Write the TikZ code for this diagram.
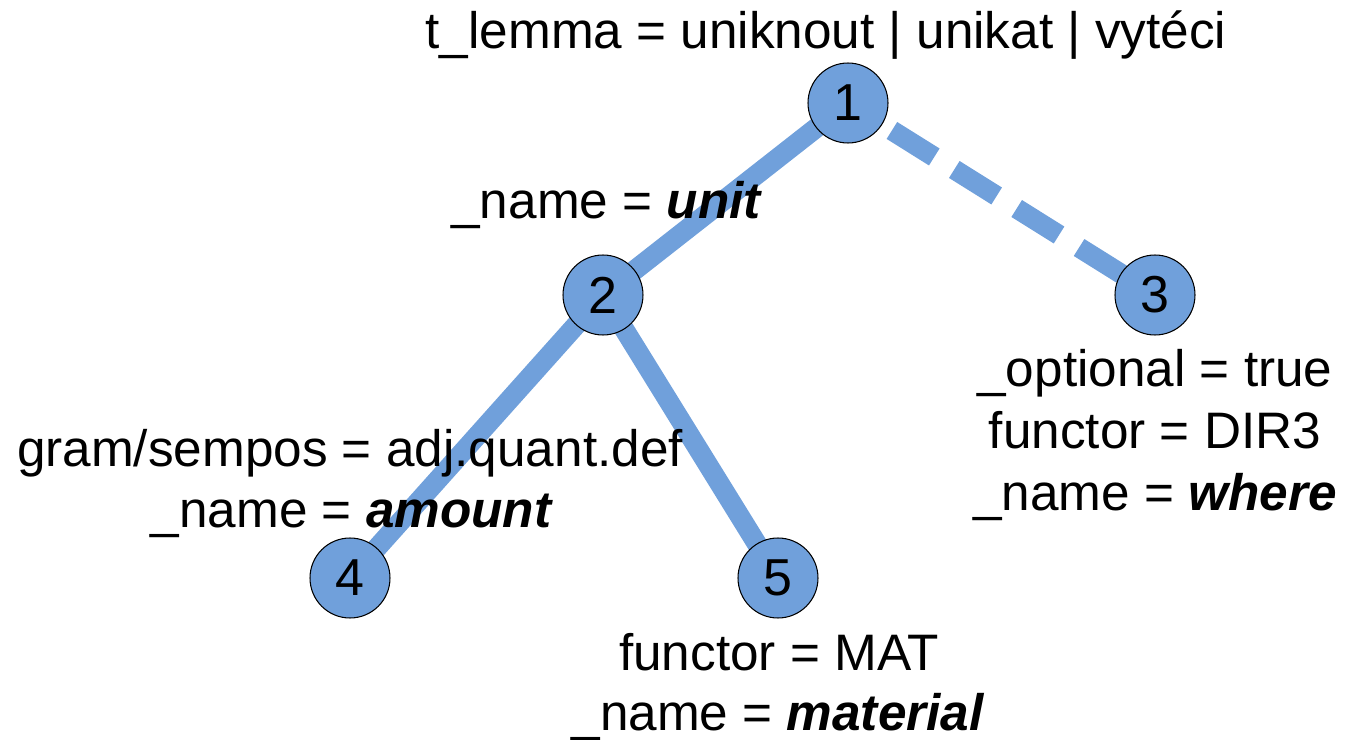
\documentclass[tikz,border=0pt]{standalone}
\usepackage{fontspec}
\setmainfont{Liberation Sans}
\usetikzlibrary{backgrounds}
\definecolor{nodeblue}{RGB}{112,160,219}
\tikzset{
  treenode/.style={circle,draw=black,line width=0.6pt,fill=nodeblue,minimum size=1.6cm,inner sep=0pt,font=\fontsize{29.6}{35}\selectfont},
  lbl/.style={anchor=base,inner sep=0pt,font=\fontsize{29.2}{35}\selectfont},
  edge/.style={draw=nodeblue,line width=0.4cm},
  optedge/.style={edge,dash pattern=on 1cm off 0.472cm,dash phase=0.436cm}
}
\begin{document}
\begin{tikzpicture}[x=0.02cm,y=-0.02cm]
\useasboundingbox (0,0) rectangle (1347,740);
\node[treenode] (n1) at (848,103) {1};
\node[treenode] (n2) at (603,295) {2};
\node[treenode] (n3) at (1155,295) {3};
\node[treenode] (n4) at (350,578) {4};
\node[treenode] (n5) at (778,578) {5};
\begin{scope}[on background layer]
\draw[edge] (n1.center) -- (n2.center);
\draw[optedge] (n1.center) -- (n3.center);
\draw[edge] (n2.center) -- (n4.center);
\draw[edge] (n2.center) -- (n5.center);
\end{scope}
\node[lbl] (l1) at (826,49) {t\_lemma = uniknout | unikat | vytéci};
\node[lbl] (l2) at (607,218) {\_name = \textbf{\textit{unit}}};
\node[lbl] (l3a) at (1155,386) {\_optional = true};
\node[lbl] (l3b) at (1155,448) {functor = DIR3};
\node[lbl] (l3c) at (1155,510) {\_name = \textbf{\textit{where}}};
\node[lbl] (l4a) at (350,466) {gram/sempos = adj.quant.def};
\node[lbl] (l4b) at (352,527) {\_name = \textbf{\textit{amount}}};
\node[lbl] (l5a) at (779,670) {functor = MAT};
\node[lbl] (l5b) at (778,730) {\_name = \textbf{\textit{material}}};
\end{tikzpicture}
\end{document}
